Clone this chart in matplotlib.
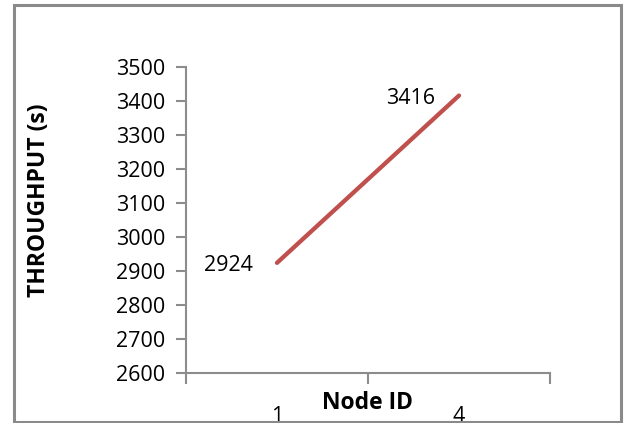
import matplotlib
matplotlib.use("Agg")
import matplotlib.pyplot as plt
from matplotlib.patches import Rectangle

# Chart data
categories = ["1", "4"]
throughput = [2924, 3416]
y_ticks = [2600, 2700, 2800, 2900, 3000, 3100, 3200, 3300, 3400, 3500]

W, H = 626, 423
DPI = 100
plt.rcParams["font.family"] = ["Open Sans", "DejaVu Sans"]

fig = plt.figure(figsize=(W / DPI, H / DPI), dpi=DPI)
fig.patch.set_facecolor("white")

def fx(px):
    return px / W

def fy(py):
    return (H - py) / H

# Plot area
left, right, top, bottom = 186, 550, 67, 373
ax = fig.add_axes([fx(left), fy(bottom), fx(right - left), fy(top) - fy(bottom)])

axis_gray = "#8c8c8c"
line_red = "#c0504d"

x = [i + 0.5 for i in range(len(categories))]
ax.plot(x, throughput, color=line_red, linewidth=3.1, solid_capstyle="round", zorder=3)

for xi, yi in zip(x, throughput):
    ax.annotate(str(yi), (xi, yi), xytext=(-24, -3), textcoords="offset pixels",
                ha="right", va="center", fontsize=15.5, color="black")

ax.set_xlim(0, len(categories))
ax.set_ylim(y_ticks[0], y_ticks[-1])
ax.set_yticks(y_ticks)
ax.set_yticklabels([str(v) for v in y_ticks])
ax.set_xticks(range(len(categories) + 1))
ax.set_xticklabels([])

for side in ["top", "right"]:
    ax.spines[side].set_visible(False)
for side in ["left", "bottom"]:
    ax.spines[side].set_color(axis_gray)
    ax.spines[side].set_linewidth(1.5)

ax.tick_params(axis="y", direction="out", length=7, width=1.5, color=axis_gray,
               labelsize=15.5, pad=8)
ax.tick_params(axis="x", direction="out", length=8, width=1.5, color=axis_gray)

# Category labels, set far below the axis
for xi, cat in zip(x, categories):
    px = left + (right - left) * xi / len(categories)
    fig.text(fx(px), fy(406), cat, ha="center", va="top", fontsize=15.5)

fig.text(fx(368), fy(403), "Node ID", ha="center", va="center",
         fontsize=16.5, fontweight="bold")
fig.text(fx(39), fy(200), "THROUGHPUT (s)", ha="center", va="center",
         rotation=90, fontsize=16.5, fontweight="bold")

# Chart frame
frame = Rectangle((fx(13.5), fy(421.5)), fx(620.5 - 13.5), fy(5) - fy(421.5),
                  transform=fig.transFigure, fill=False, edgecolor="#8a8a8a",
                  linewidth=2.2, zorder=10)
fig.patches.append(frame)

fig.savefig("out.png", dpi=DPI, facecolor="white")
